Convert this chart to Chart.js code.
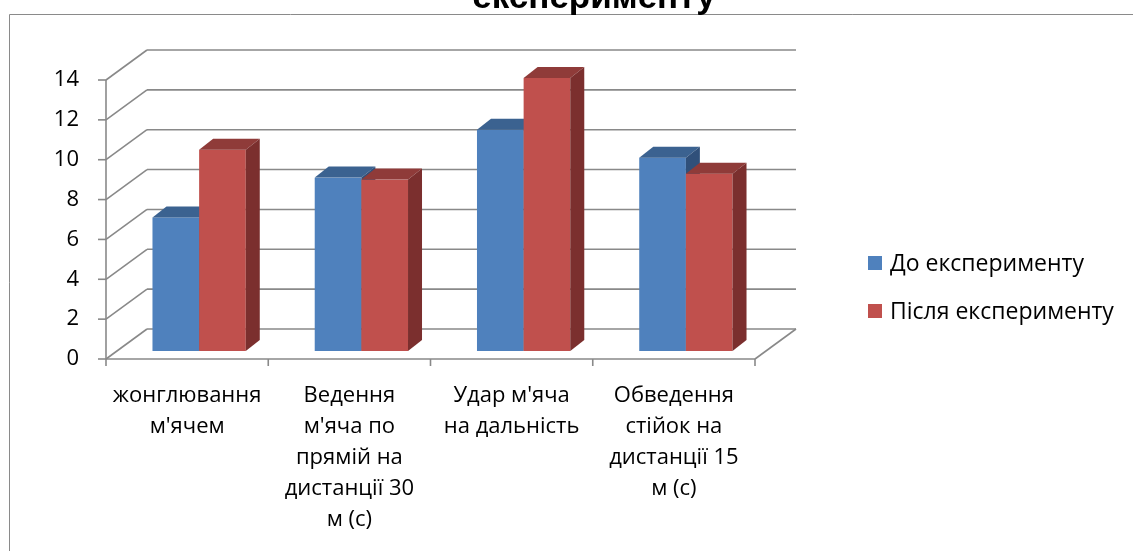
<!DOCTYPE html>
<html>
<head>
<meta charset="utf-8">
<script src="https://cdn.jsdelivr.net/npm/chart.js@4/dist/chart.umd.min.js"></script>
<style>
  html, body { margin: 0; padding: 0; background: #fff; }
  #wrap { width: 1133px; height: 551px; position: relative; overflow: hidden; }
</style>
</head>
<body>
<div id="wrap"><canvas id="barChart" width="1133" height="551"></canvas></div>
<script>
  const titleText = 'експерименту';
  const categories = [
    ['жонглювання', 'м\'ячем'],
    ['Ведення', 'м\'яча по', 'прямій на', 'дистанції 30', 'м (с)'],
    ['Удар м\'яча', 'на дальність'],
    ['Обведення', 'стійок на', 'дистанції 15', 'м (с)']
  ];
  const seriesNames = ['До експерименту', 'Після експерименту'];
  const beforeValues = [6.7, 8.7, 11.1, 9.7];
  const afterValues = [10.1, 8.6, 13.7, 8.9];
  const yMin = 0, yMax = 14, yStep = 2;

  const faceColors = [
    { front: '#4F81BD', top: '#3B6290', side: '#30507A' },
    { front: '#C0504D', top: '#8F3B39', side: '#7B2F2E' }
  ];
  const gridColor = '#898989';
  const FONT = '"Open Sans", "Noto Sans", sans-serif';

  // depth of the floor / back wall, and where the bars sit inside it
  const wall = { dx: 41, dy: -30 };
  const barShift = { dx: 12, dy: -8 };
  const barDepth = { dx: 14, dy: -11 };

  function line(ctx, x1, y1, x2, y2) {
    ctx.beginPath();
    ctx.moveTo(x1, y1);
    ctx.lineTo(x2, y2);
    ctx.stroke();
  }

  function poly(ctx, pts, color) {
    ctx.beginPath();
    ctx.moveTo(pts[0][0], pts[0][1]);
    for (let i = 1; i < pts.length; i++) ctx.lineTo(pts[i][0], pts[i][1]);
    ctx.closePath();
    ctx.fillStyle = color;
    ctx.fill();
  }

  const threeD = {
    id: 'threeD',
    beforeDraw(chart) {
      const ctx = chart.ctx;
      ctx.save();
      ctx.strokeStyle = '#8a8a8a';
      ctx.lineWidth = 1;
      line(ctx, 9.5, 14.5, chart.width, 14.5);
      line(ctx, 9.5, 14.5, 9.5, chart.height);
      ctx.restore();
    },
    beforeDatasetsDraw(chart) {
      const { ctx, chartArea: a, scales } = chart;
      const x = scales.x, y = scales.y;
      ctx.save();
      ctx.strokeStyle = gridColor;
      ctx.lineWidth = 1.6;
      // side wall diagonals + back wall lines
      for (let v = yMin; v <= yMax; v += yStep) {
        const py = y.getPixelForValue(v);
        line(ctx, a.left, py, a.left + wall.dx, py + wall.dy);
        line(ctx, a.left + wall.dx, py + wall.dy, a.right + wall.dx, py + wall.dy);
        line(ctx, a.left - 8, py, a.left, py);
      }
      // front axis
      line(ctx, a.left, y.getPixelForValue(yMax), a.left, a.bottom);
      // floor front edge and right edge
      line(ctx, a.left, a.bottom, a.right, a.bottom);
      line(ctx, a.right, a.bottom, a.right + wall.dx, a.bottom + wall.dy);
      // category ticks
      for (let i = 0; i <= categories.length; i++) {
        const px = x.getPixelForValue(i - 0.5);
        line(ctx, px, a.bottom, px, a.bottom + 7);
      }
      ctx.restore();
    },
    afterDatasetsDraw(chart) {
      const ctx = chart.ctx;
      ctx.save();
      for (let i = 0; i < categories.length; i++) {
        chart.data.datasets.forEach((ds, d) => {
          const el = chart.getDatasetMeta(d).data[i];
          const p = el.getProps(['x', 'y', 'base', 'width'], true);
          const c = faceColors[d];
          const l = p.x - p.width / 2 + barShift.dx;
          const r = p.x + p.width / 2 + barShift.dx;
          const t = p.y + barShift.dy;
          const b = p.base + barShift.dy;
          ctx.fillStyle = c.front;
          ctx.fillRect(l, t, r - l, b - t);
          poly(ctx, [[l, t], [l + barDepth.dx, t + barDepth.dy], [r + barDepth.dx, t + barDepth.dy], [r, t]], c.top);
          poly(ctx, [[r, t], [r + barDepth.dx, t + barDepth.dy], [r + barDepth.dx, b + barDepth.dy], [r, b]], c.side);
        });
      }
      ctx.restore();
    },
    afterDraw(chart) {
      const ctx = chart.ctx;
      ctx.save();
      // title (only its last line is inside the picture)
      ctx.fillStyle = '#000';
      ctx.font = 'bold 35px "Liberation Sans", Arial, sans-serif';
      ctx.textAlign = 'center';
      ctx.textBaseline = 'alphabetic';
      ctx.fillText(titleText, 594, 8);
      // legend
      ctx.font = '23px ' + FONT;
      ctx.textAlign = 'left';
      ctx.textBaseline = 'middle';
      seriesNames.forEach((name, k) => {
        const cy = 263 + k * 48;
        ctx.fillStyle = faceColors[k].front;
        ctx.fillRect(868, cy - 7, 14, 14);
        ctx.fillStyle = '#000';
        ctx.fillText(name, 890, cy + 1);
      });
      ctx.restore();
    }
  };

  const data = {
    labels: categories,
    datasets: [
      { label: seriesNames[0], data: beforeValues, backgroundColor: 'rgba(0,0,0,0)' },
      { label: seriesNames[1], data: afterValues, backgroundColor: 'rgba(0,0,0,0)' }
    ]
  };

  const config = {
    type: 'bar',
    data: data,
    options: {
      responsive: false,
      animation: false,
      devicePixelRatio: 1,
      categoryPercentage: 0.575,
      barPercentage: 1,
      layout: { padding: { left: 0, right: 378, top: 80, bottom: 0 } },
      plugins: { legend: { display: false }, tooltip: { enabled: false } },
      scales: {
        x: {
          grid: { display: false },
          border: { display: false },
          ticks: {
            color: '#000',
            font: { family: FONT, size: 22, lineHeight: '31px' },
            padding: 13,
            maxRotation: 0,
            autoSkip: false
          },
          afterFit(s) { s.height = 192; }
        },
        y: {
          min: yMin,
          max: yMax,
          grid: { display: false },
          border: { display: false },
          ticks: {
            stepSize: yStep,
            color: '#000',
            font: { family: FONT, size: 22 },
            padding: 19
          },
          afterFit(s) { s.width = 106; }
        }
      }
    },
    plugins: [threeD]
  };

  const barChart = new Chart(document.getElementById('barChart'), config);
</script>
</body>
</html>
